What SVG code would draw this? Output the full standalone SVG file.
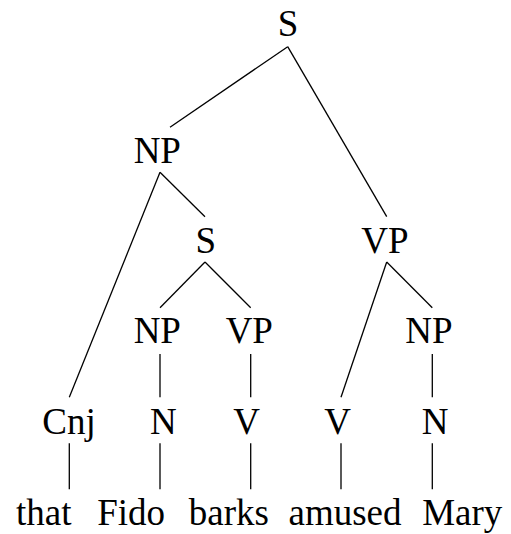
<svg xmlns="http://www.w3.org/2000/svg" width="511" height="534" viewBox="0 0 511 534">
<style>
text{font-family:"Liberation Serif","Times New Roman",serif;font-size:37px;fill:#000;text-anchor:middle}
line{stroke:#000;stroke-width:1.3}
</style>
<rect width="511" height="534" fill="#fff"/>
<g id="connectors">
<line x1="287.7" y1="46.7" x2="170" y2="127.3"/>
<line x1="287.7" y1="46.7" x2="386.7" y2="216.7"/>
<line x1="160" y1="172.3" x2="69.3" y2="397.3"/>
<line x1="160" y1="172.3" x2="205" y2="216.7"/>
<line x1="205" y1="262" x2="160" y2="307.7"/>
<line x1="205" y1="262" x2="250.7" y2="307.7"/>
<line x1="386.7" y1="262" x2="341" y2="397.3"/>
<line x1="386.7" y1="262" x2="432.3" y2="307.7"/>
<line x1="160" y1="354" x2="160" y2="397.3"/>
<line x1="250.7" y1="354" x2="250.7" y2="397.3"/>
<line x1="432.3" y1="354" x2="432.3" y2="397.3"/>
<line x1="69.3" y1="443.3" x2="69.3" y2="489.3"/>
<line x1="160" y1="443.3" x2="160" y2="489.3"/>
<line x1="250.7" y1="443.3" x2="250.7" y2="489.3"/>
<line x1="341" y1="443.3" x2="341" y2="489.3"/>
<line x1="432.3" y1="443.3" x2="432.3" y2="489.3"/>
</g>
<g id="n-S"><text x="288" y="36">S</text></g>
<g id="n-NP"><text x="157.3" y="163.3">NP</text></g>
<g id="n-S2"><text x="205.7" y="253.3">S</text></g>
<g id="n-VP"><text x="385" y="253.3">VP</text></g>
<g id="n-NP2"><text x="157.3" y="343.3">NP</text></g>
<g id="n-VP2"><text x="249.3" y="343.3">VP</text></g>
<g id="n-NP3"><text x="429" y="343.3">NP</text></g>
<g id="n-Cnj"><text x="69" y="434">Cnj</text></g>
<g id="n-N1"><text x="163.3" y="434">N</text></g>
<g id="n-V1"><text x="246.7" y="434">V</text></g>
<g id="n-V2"><text x="337.7" y="434">V</text></g>
<g id="n-N2"><text x="435" y="434">N</text></g>
<g id="w-that"><text x="43.8" y="525">that</text></g>
<g id="w-Fido"><text x="131.2" y="525">Fido</text></g>
<g id="w-barks"><text x="228.8" y="525">barks</text></g>
<g id="w-amused"><text x="345" y="525">amused</text></g>
<g id="w-Mary"><text x="462.3" y="525">Mary</text></g>
</svg>
